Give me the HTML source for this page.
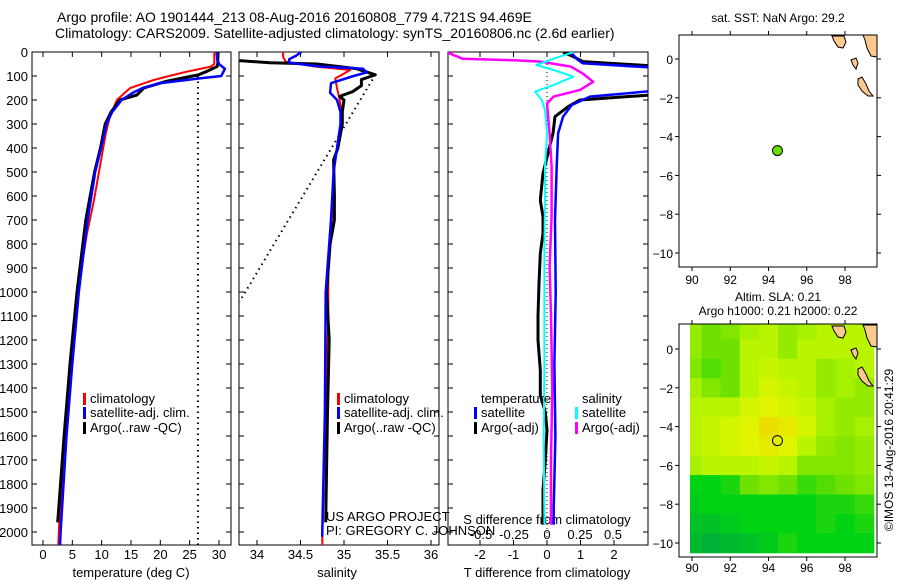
<!DOCTYPE html>
<html><head><meta charset="utf-8">
<style>
html,body{margin:0;padding:0;background:#fff;}
svg{display:block;font-family:"Liberation Sans",sans-serif;}
text{fill:#000;}
</style></head>
<body>
<svg id="fig" width="900" height="580" viewBox="0 0 900 580">
<text x="57" y="22" font-size="14">Argo profile: AO 1901444_213 08-Aug-2016 20160808_779 4.721S 94.469E</text>
<text x="55" y="38" font-size="14">Climatology: CARS2009. Satellite-adjusted climatology: synTS_20160806.nc (2.6d earlier)</text>
<text x="778" y="22" font-size="12" text-anchor="middle">sat. SST: NaN Argo: 29.2</text>
<text x="778" y="301" font-size="12" text-anchor="middle">Altim. SLA: 0.21</text>
<text x="778" y="315" font-size="12" text-anchor="middle">Argo h1000: 0.21 h2000: 0.22</text>
<text transform="translate(893,450) rotate(-90)" font-size="12" text-anchor="middle">©IMOS 13-Aug-2016 20:41:29</text>
<g id="layer"></g>
</svg>
<script>
// ---------- data ----------
var depthTicks = [0,100,200,300,400,500,600,700,800,900,1000,1100,1200,1300,1400,1500,1600,1700,1800,1900,2000];
var tempTicks = [0,5,10,15,20,25,30];
var salTicks = [34,34.5,35,35.5,36];
var salTickLabels = ["34","34.5","35","35.5","36"];
var tdiffTicks = [-2,-1,0,1,2];
var sdiffTicks = [-0.5,-0.25,0,0.25,0.5];
var sdiffTickLabels = ["-0.5","-0.25","0","0.25","0.5"];

var climTDepth = [0,50,61,82,100,117,151,200,269,339,478,617,756,894,1000,1100,1200,1300,1400,1500,1600,1700,1800,1900,2000,2054];
var climTVal   = [29.2,29.2,28.6,24.5,21.5,18.8,14.8,12.6,11.4,10.7,9.7,8.7,7.5,6.6,6.0,5.6,5.1,4.7,4.3,4.0,3.7,3.4,3.2,2.9,2.7,2.6];
var satTDepth = [0,30,50,70,100,110,130,150,170,200,250,300,400,500,700,1000,1300,1600,2000,2054];
var satTVal   = [29.6,29.7,30.0,31.0,30.4,26.7,19.9,17.0,15.3,13.4,11.8,10.8,9.9,8.9,7.6,6.1,5.0,4.0,3.0,2.9];
var argoTDepth = [0,50,60,80,96,100,122,150,179,200,250,300,400,500,700,1000,1300,1600,1960];
var argoTVal   = [29.8,29.8,29.7,28.0,26.4,25.5,21.0,17.2,16.0,13.1,11.6,10.6,9.8,8.8,7.3,5.8,4.6,3.6,2.5];
var tempDotted = [26.4,26.4];
var tempDottedDepth = [100,2054];

var climSDepth = [0,20,40,60,75,90,110,150,200,250,300,400,500,700,900,1100,1500,2000,2054];
var climSVal   = [34.30,34.30,34.33,34.65,35.07,35.0,34.9,34.92,34.95,34.97,34.96,34.92,34.88,34.86,34.82,34.82,34.79,34.75,34.75];
var satSDepth = [0,15,30,45,60,70,85,100,130,170,200,250,300,400,500,700,1000,1500,2000,2020];
var satSVal   = [34.51,34.45,34.37,34.37,34.72,35.22,35.26,35.11,34.85,34.84,34.92,34.96,34.96,34.92,34.88,34.85,34.79,34.78,34.75,34.75];
var argoSDepth = [36,45,50,70,95,115,140,165,185,200,250,300,400,450,600,700,800,1000,1200,1500,1960];
var argoSVal   = [33.80,34.15,34.69,35.15,35.36,35.2,35.2,35.1,34.95,35.0,34.98,34.98,34.93,34.88,34.89,34.89,34.84,34.8,34.83,34.81,34.79];
var salDotted = [35.36,33.80];
var salDottedDepth = [95,1040];

var satTdDepth = [0,30,47,68,90,140,158,186,221,269,339,478,700,1000,1300,1600,1900,1970];
var satTdVal   = [0.7,0.9,1.07,3.5,6,6,3.5,1.28,0.74,0.48,0.33,0.29,0.24,0.26,0.22,0.25,0.2,0.2];
var argoTdDepth = [1,20,40,61,90,150,180,200,228,269,339,422,505,617,686,756,839,964,1100,1200,1325,1430,1500,1575,1700,1825,1970];
var argoTdVal   = [0.48,0.8,1.07,3.5,6,6,3.0,0.98,0.63,0.24,0.18,0.03,-0.12,-0.2,-0.12,-0.12,-0.2,-0.24,-0.27,-0.27,-0.2,-0.2,-0.05,0.0,-0.05,-0.12,-0.12];
var satSdDepth = [1,22,54,75,103,137,165,200,242,339,478,617,800,1000,1300,1600,1970];
var satSdVal   = [0.2,0.08,-0.08,0.05,0.2,0.05,-0.09,-0.04,-0.015,0,-0.015,-0.015,-0.02,-0.02,-0.02,-0.025,-0.02];
var argoSdDepth = [1,28,35,40,61,89,124,158,186,214,339,478,686,894,1100,1400,1700,1970];
var argoSdVal   = [-0.76,-0.64,-0.23,-0.05,0.18,0.27,0.35,0.25,0.05,0.0,0.02,0.035,0.035,0.02,0.03,0.04,0.03,0.03];
var sdZero = [0,0];
var sdZeroDepth = [0,2054];

var mapLonTicks = [90,92,94,96,98];
var mapLatTicks = [0,-2,-4,-6,-8,-10];
var floatLon = [94.469];
var floatLat = [-4.721];
var slaLons = [90,91,92,93,94,95,96,97,98,99];
var slaLats = [1,0,-1,-2,-3,-4,-5,-6,-7,-8,-9,-10];
var slaRows = [
 [0.6,0.5,0.55,0.65,0.7,0.6,0.65,0.7,0.7,0.7],
 [0.6,0.5,0.5,0.7,0.7,0.6,0.7,0.7,0.7,0.7],
 [0.55,0.45,0.5,0.7,0.75,0.7,0.7,0.6,0.65,0.7],
 [0.65,0.55,0.5,0.7,0.8,0.75,0.7,0.6,0.65,0.6],
 [0.7,0.7,0.7,0.8,0.85,0.8,0.75,0.65,0.6,0.6],
 [0.7,0.75,0.8,0.85,0.95,0.9,0.8,0.65,0.6,0.65],
 [0.7,0.75,0.8,0.85,0.9,0.85,0.7,0.6,0.55,0.6],
 [0.65,0.7,0.7,0.7,0.75,0.7,0.55,0.55,0.55,0.6],
 [0.3,0.3,0.35,0.5,0.55,0.5,0.4,0.45,0.5,0.55],
 [0.25,0.3,0.3,0.3,0.3,0.3,0.3,0.35,0.35,0.4],
 [0.2,0.2,0.25,0.3,0.3,0.3,0.3,0.35,0.3,0.35],
 [0.15,0.1,0.15,0.2,0.25,0.35,0.3,0.3,0.3,0.3]
];

// ---------- helpers ----------
var NS = "http://www.w3.org/2000/svg";
var layer = document.getElementById("layer");
function mk(tag, attrs, parent){
  var e = document.createElementNS(NS, tag);
  for (var k in attrs) e.setAttribute(k, attrs[k]);
  (parent||layer).appendChild(e);
  return e;
}
function lin(d0,d1,r0,r1){ return function(v){ return r0 + (v-d0)*(r1-r0)/(d1-d0); }; }
var yD = lin(0,2000,52,532);

function panel(name, x0, x1, y0, y1){
  var g = mk("g", {});
  
  
  var cp = mk("clipPath", {id: name+"-clip"}, g);
  mk("rect", {x:x0, y:y0, width:x1-x0, height:y1-y0}, cp);
  var fr = mk("rect", {x:x0, y:y0, width:x1-x0, height:y1-y0, fill:"none", stroke:"#000", "stroke-width":1});
  
  
  return g;
}
function series(name, xs, ds, xf, color, width, dash, clip){
  var pts = [];
  for (var i=0;i<xs.length;i++) pts.push(xf(xs[i]).toFixed(1)+","+yD(ds[i]).toFixed(1));
  var a = {points: pts.join(" "), fill:"none", stroke:color, "stroke-width":width, "stroke-linejoin":"round"};
  if (dash) a["stroke-dasharray"] = dash;
  if (clip) a["clip-path"] = "url(#"+clip+")";
  var p = mk("polyline", a);
  
  
  return p;
}
function txt(name, s, x, y, size, anchor){
  var t = mk("text", {x:x, y:y, "font-size":size, "text-anchor":anchor||"start"});
  t.textContent = s;
  
  
  return t;
}
function xTicks(prefix, vals, labels, xf, y0, y1, labelY, showLabels){
  for (var i=0;i<vals.length;i++){
    var x = xf(vals[i]);
    var t1 = mk("line",{x1:x,x2:x,y1:y1,y2:y1-5,stroke:"#000"});
    
    
    var t2 = mk("line",{x1:x,x2:x,y1:y0,y2:y0+5,stroke:"#000"});
    
    
    if (showLabels) txt(prefix+'-tick-label', labels ? labels[i] : String(vals[i]), x, labelY, 13, "middle");
  }
}
function depthTickMarks(prefix, x0, x1){
  for (var i=0;i<depthTicks.length;i++){
    var y = yD(depthTicks[i]);
    var a = mk("line",{x1:x0,x2:x0+5,y1:y,y2:y,stroke:"#000"});
    
    
    var b = mk("line",{x1:x1,x2:x1-5,y1:y,y2:y,stroke:"#000"});
    
    
  }
}
function legendEntry(name, color, label, x, y){
  var b = mk("rect",{x:x, y:y-10, width:3, height:12, fill:color});
  
  
  txt(name, label, x+7, y, 13);
}

// ---------- panel 1: temperature ----------
var P1 = {x0:32,x1:231,y0:52,y1:545};
var xT = lin(0,30,43,219);
panel("temperature-panel",P1.x0,P1.x1,P1.y0,P1.y1);
for (var i=0;i<depthTicks.length;i++) txt("depth-tick-label", String(depthTicks[i]), 28, yD(depthTicks[i])+5, 13, "end");
depthTickMarks("temperature", P1.x0, P1.x1);
xTicks("temperature", tempTicks, null, xT, P1.y0, P1.y1, 559, true);
txt("temperature-axis-title","temperature (deg C)",131,577,13,"middle");
series("temperature-dotted-line", tempDotted, tempDottedDepth, xT, "#000", 2, "1.5,4", "temperature-panel-clip");
series("temperature-climatology-line", climTVal, climTDepth, xT, "#ff0000", 2, null, "temperature-panel-clip");
series("temperature-argo-line", argoTVal, argoTDepth, xT, "#000", 3, null, "temperature-panel-clip");
series("temperature-satellite-line", satTVal, satTDepth, xT, "#0000ff", 2.5, null, "temperature-panel-clip");
legendEntry("temperature-legend-climatology","#ff0000","climatology",83,403);
legendEntry("temperature-legend-satellite","#0000ff","satellite-adj. clim.",83,417);
legendEntry("temperature-legend-argo","#000","Argo(..raw -QC)",83,432);

// ---------- panel 2: salinity ----------
var P2 = {x0:239,x1:439,y0:52,y1:545};
var xS = lin(34,36,257,431);
panel("salinity-panel",P2.x0,P2.x1,P2.y0,P2.y1);
depthTickMarks("salinity", P2.x0, P2.x1);
xTicks("salinity", salTicks, salTickLabels, xS, P2.y0, P2.y1, 559, true);
txt("salinity-axis-title","salinity",337,577,13,"middle");
series("salinity-dotted-line", salDotted, salDottedDepth, xS, "#000", 2, "1.5,4", "salinity-panel-clip");
series("salinity-climatology-line", climSVal, climSDepth, xS, "#ff0000", 2, null, "salinity-panel-clip");
series("salinity-argo-line", argoSVal, argoSDepth, xS, "#000", 3, null, "salinity-panel-clip");
series("salinity-satellite-line", satSVal, satSDepth, xS, "#0000ff", 2.5, null, "salinity-panel-clip");
legendEntry("salinity-legend-climatology","#ff0000","climatology",337,403);
legendEntry("salinity-legend-satellite","#0000ff","satellite-adj. clim.",337,417);
legendEntry("salinity-legend-argo","#000","Argo(..raw -QC)",337,432);
txt("project-credit","US ARGO PROJECT",326,521,13);
txt("pi-credit","PI: GREGORY C. JOHNSON",326,535,13);

// ---------- panel 3: differences ----------
var P3 = {x0:448,x1:648,y0:52,y1:545};
var xTd = lin(0,2,547,614);
var xSd = lin(0,0.5,547,613);
panel("difference-panel",P3.x0,P3.x1,P3.y0,P3.y1);
depthTickMarks("difference", P3.x0, P3.x1);
xTicks("tdiff", tdiffTicks, null, xTd, P3.y0, P3.y1, 559, true);
txt("tdiff-axis-title","T difference from climatology",547,577,13,"middle");
for (var i=0;i<sdiffTicks.length;i++) txt("sdiff-tick-label", sdiffTickLabels[i], xSd(sdiffTicks[i]), 539, 13, "middle");
txt("sdiff-axis-title","S difference from climatology",547,524,13,"middle");
series("sdiff-zero-line", sdZero, sdZeroDepth, xSd, "#000", 1, "1,3", "difference-panel-clip");
series("tdiff-argo-line", argoTdVal, argoTdDepth, xTd, "#000", 3, null, "difference-panel-clip");
series("tdiff-satellite-line", satTdVal, satTdDepth, xTd, "#0000ff", 2.5, null, "difference-panel-clip");
series("sdiff-argo-line", argoSdVal, argoSdDepth, xSd, "#ff00ff", 2.5, null, "difference-panel-clip");
series("sdiff-satellite-line", satSdVal, satSdDepth, xSd, "#00ffff", 2, null, "difference-panel-clip");
txt("diff-legend-temperature-heading","temperature",481,403,13);
legendEntry("diff-legend-temperature-satellite","#0000ff","satellite",474,417);
legendEntry("diff-legend-temperature-argo","#000","Argo(-adj)",474,432);
txt("diff-legend-salinity-heading","salinity",582,403,13);
legendEntry("diff-legend-salinity-satellite","#00ffff","satellite",575,417);
legendEntry("diff-legend-salinity-argo","#ff00ff","Argo(-adj)",575,432);

// ---------- maps ----------
function land(g, dy){
  var polys = [
    "832,36 844,36 846,42 843,48 838,47 834,41",
    "863,35 877,35 877,57 871,56 867,48 865,40",
    "858,79 862,77 866,84 869,91 873,96 868,96 862,91 858,85",
    "851,60 856,58 858,63 856,69 853,65"
  ];
  for (var i=0;i<polys.length;i++){
    var p = mk("polygon",{points:polys[i], fill:"#fcc98e", stroke:"#000", "stroke-width":1, transform:"translate(0,"+dy+")"}, g);
    
    
  }
}
function mapAxes(prefix, x0, x1, y0, y1, lonF, latF, labelY){
  for (var i=0;i<mapLonTicks.length;i++){
    var x = lonF(mapLonTicks[i]);
    var a = mk("line",{x1:x,x2:x,y1:y1,y2:y1+4,stroke:"#000"});
    
    
    var b = mk("line",{x1:x,x2:x,y1:y0,y2:y0-4,stroke:"#000"});
    
    
    txt(prefix+'-lon-label', String(mapLonTicks[i]), x, labelY, 12, "middle");
  }
  for (var i=0;i<mapLatTicks.length;i++){
    var y = latF(mapLatTicks[i]);
    var a = mk("line",{x1:x0,x2:x0-4,y1:y,y2:y,stroke:"#000"});
    
    
    var b = mk("line",{x1:x1,x2:x1+4,y1:y,y2:y,stroke:"#000"});
    
    
    txt(prefix+'-lat-label', String(mapLatTicks[i]).replace("-","\u2212"), x0-6, y+5, 12, "end");
  }
}
// map 1
var lon1 = lin(90,98,692,845), lat1 = lin(0,-10,59,253);
var m1 = panel("sst-map",679,877,35,267);
land(layer,0);
mapAxes("sst-map",679,877,35,267,lon1,lat1,284);
var fd = mk("circle",{cx:lon1(floatLon[0]), cy:lat1(floatLat[0]), r:5, fill:"#66dd00", stroke:"#000", "stroke-width":1});



// map 2
var lon2 = lin(90,98,692,845), lat2 = lin(0,-10,349,543);
var stops = [[0,[0,160,70]],[0.3,[0,210,20]],[0.5,[110,225,0]],[0.7,[185,245,0]],[0.85,[225,245,0]],[1,[240,210,0]]];
function cmap(v){
  for (var i=1;i<stops.length;i++){
    if (v<=stops[i][0]){
      var a=stops[i-1], b=stops[i], t=(v-a[0])/(b[0]-a[0]);
      return "rgb("+[0,1,2].map(function(k){return Math.round(a[1][k]+(b[1][k]-a[1][k])*t);}).join(",")+")";
    }
  }
  return "rgb(240,210,0)";
}
var hg = mk("g",{"clip-path":"url(#sla-map-heat-clip)"});


var hc = mk("clipPath",{id:"sla-map-heat-clip"});
mk("rect",{x:690,y:324,width:185,height:232},hc);
var dx = lon2(1)-lon2(0), dyc = lat2(-1)-lat2(0);
for (var r=0;r<slaLats.length;r++){
  for (var c=0;c<slaLons.length;c++){
    var cell = mk("rect",{x:(lon2(slaLons[c])-dx/2).toFixed(1), y:(lat2(slaLats[r])-dyc/2).toFixed(1), width:(dx+0.6).toFixed(1), height:(dyc+0.6).toFixed(1), fill:cmap(slaRows[r][c])}, hg);
    
    
  }
}
panel("sla-map",679,877,324,557);
land(layer,290);
mapAxes("sla-map",679,877,324,557,lon2,lat2,572);
var fd2 = mk("circle",{cx:lon2(floatLon[0]), cy:lat2(floatLat[0]), r:5, fill:"none", stroke:"#000", "stroke-width":1});


</script>
</body></html>
